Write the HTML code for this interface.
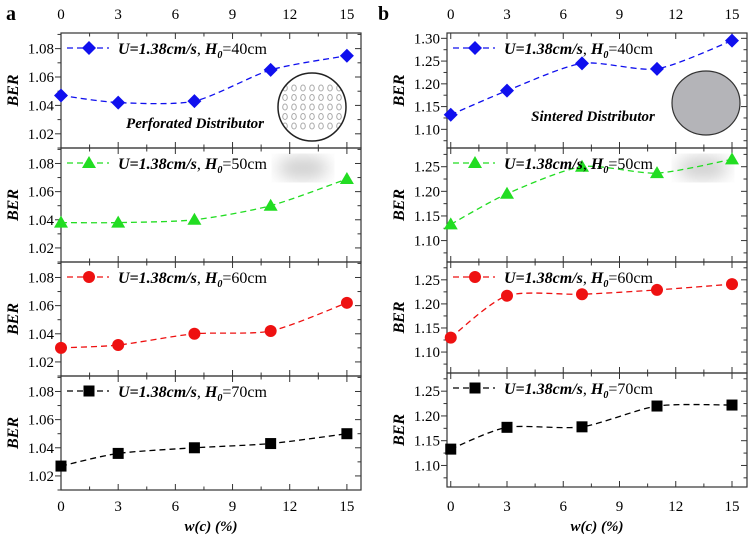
<!DOCTYPE html>
<html><head><meta charset="utf-8"><style>
body{margin:0;background:#fff}
svg{display:block}
svg text, svg tspan{font-family:"Liberation Serif","DejaVu Serif","Times New Roman",serif}
</style></head><body>
<svg id="c" width="750" height="540" viewBox="0 0 750 540" xmlns="http://www.w3.org/2000/svg">
<defs><filter id="bl"><feGaussianBlur stdDeviation="8"/></filter></defs>
</svg>
<script>
const xs=[0,3,7,11,15];
const aBlue=[1.047,1.042,1.043,1.065,1.075];
const aGreen=[1.038,1.038,1.040,1.050,1.069];
const aRed=[1.030,1.032,1.040,1.042,1.062];
const aBlack=[1.027,1.036,1.040,1.043,1.050];
const bBlue=[1.132,1.185,1.245,1.233,1.295];
const bGreen=[1.133,1.195,1.250,1.237,1.265];
const bRed=[1.130,1.217,1.220,1.229,1.241];
const bBlack=[1.133,1.177,1.178,1.220,1.222];
const xTicks=[0,3,6,9,12,15];
const aYTicks=[1.02,1.04,1.06,1.08];
const bYTicks1=[1.10,1.15,1.20,1.25,1.30];
const bYTicks=[1.10,1.15,1.20,1.25];
const heights=['40','50','60','70'];

const NS='http://www.w3.org/2000/svg';
const svg=document.getElementById('c');
function el(t,a,p){const e=document.createElementNS(NS,t);for(const k in a)e.setAttribute(k,a[k]);(p||svg).appendChild(e);return e;}

const panels=[
 {name:'a',x0:61,x1:361,xmin:0,xmax:15.74,rows:[33,148,262,376,490],
  ranges:[[1.010,1.091],[1.010,1.091],[1.010,1.091],[1.010,1.091]],
  yt:[aYTicks,aYTicks,aYTicks,aYTicks],minor:0.01,
  data:[aBlue,aGreen,aRed,aBlack]},
 {name:'b',x0:447,x1:747,xmin:-0.2,xmax:15.8,rows:[33,148,262,373,487],
  ranges:[[1.059,1.3117],[1.0565,1.288],[1.0565,1.287],[1.0565,1.2867]],
  yt:[bYTicks1,bYTicks,bYTicks,bYTicks],minor:0.025,
  data:[bBlue,bGreen,bRed,bBlack]}
];
const colors=['#1010ee','#22dd22','#ee1111','#000'];
const markers=['diamond','triangle','circle','square'];

function marker(g,type,x,y,c){
  let m;
  if(type==='diamond')m=el('polygon',{points:`${x},${y-7} ${x+7},${y} ${x},${y+7} ${x-7},${y}`,fill:c},g);
  else if(type==='triangle')m=el('polygon',{points:`${x},${y-7} ${x+7},${y+5} ${x-7},${y+5}`,fill:c},g);
  else if(type==='circle')m=el('circle',{cx:x,cy:y,r:6,fill:c},g);
  else m=el('rect',{x:x-5.5,y:y-5.5,width:11,height:11,fill:c},g);
  
  
}
function smooth(pts){
  let d=`M${pts[0][0]},${pts[0][1]}`;
  for(let i=0;i<pts.length-1;i++){
    const p0=pts[Math.max(0,i-1)],p1=pts[i],p2=pts[i+1],p3=pts[Math.min(pts.length-1,i+2)];
    const c1=[p1[0]+(p2[0]-p0[0])/8,p1[1]+(p2[1]-p0[1])/8];
    const c2=[p2[0]-(p3[0]-p1[0])/8,p2[1]-(p3[1]-p1[1])/8];
    d+=` C${c1[0]},${c1[1]} ${c2[0]},${c2[1]} ${p2[0]},${p2[1]}`;
  }
  return d;
}

const la=el('text',{x:6,y:20,'font-size':20,'font-weight':'bold'});la.textContent='a';

const lb=el('text',{x:378,y:20,'font-size':20,'font-weight':'bold'});lb.textContent='b';


panels.forEach(P=>{
  const pg=el('g',{});
  
  
  const X=v=>P.x0+(v-P.xmin)/(P.xmax-P.xmin)*(P.x1-P.x0);
  xTicks.forEach(t=>{
    const tt=el('text',{x:X(t),y:19,'font-size':15,'text-anchor':'middle'},pg);tt.textContent=t;
    
    const tb=el('text',{x:X(t),y:511,'font-size':15,'text-anchor':'middle'},pg);tb.textContent=t;
    
  });
  const xt=el('text',{x:(P.x0+P.x1)/2,y:531,'font-size':15,'font-weight':'bold','font-style':'italic','text-anchor':'middle'},pg);
  xt.textContent='w(c) (%)';
  
  for(let r=0;r<4;r++){
    const top=P.rows[r],bot=P.rows[r+1],[ymin,ymax]=P.ranges[r];
    const Y=v=>bot-(v-ymin)/(ymax-ymin)*(bot-top);
    const g=el('g',{},pg);
    
    
    if(r===0&&P.name==='a'){
      const cx=312,cy=107,R=34;
      el('clipPath',{id:'cp'},g);
      el('circle',{cx,cy,r:R},g.lastChild);
      const hg=el('g',{'clip-path':'url(#cp)'},g);
      for(let i=-3;i<=3;i++)for(let j=-2;j<=2;j++)el('ellipse',{cx:cx+i*9,cy:cy+j*9.5,rx:2.3,ry:3,fill:'none',stroke:'#aaa','stroke-width':1},hg);
      const ci=el('circle',{cx,cy,r:R,fill:'none',stroke:'#222','stroke-width':1.5},g);
      
      const t=el('text',{x:195,y:128,'font-size':15,'font-weight':'bold','font-style':'italic','text-anchor':'middle'},g);
      t.textContent='Perforated Distributor';
      
    }
    if(r===0&&P.name==='b'){
      const ci=el('ellipse',{cx:706,cy:103,rx:34,ry:32,fill:'#b4b4b8',stroke:'#333','stroke-width':1.2},g);
      
      const t=el('text',{x:593,y:121,'font-size':15,'font-weight':'bold','font-style':'italic','text-anchor':'middle'},g);
      t.textContent='Sintered Distributor';
      
    }
    if(r===1){
      const bx=P.name==='a'?303:703;
      el('ellipse',{cx:bx,cy:168,rx:26,ry:12,fill:'#d0d0d0',filter:'url(#bl)'},g);
    }
    const fr=el('rect',{x:P.x0,y:top,width:P.x1-P.x0,height:bot-top,fill:'none',stroke:'#333','stroke-width':1.2},g);
    
    for(let t=0;t<=15;t+=1.5){
      const len=(t%3===0)?6:3.5;
      el('line',{x1:X(t),x2:X(t),y1:bot,y2:bot-len,stroke:'#333'},g);
      el('line',{x1:X(t),x2:X(t),y1:top,y2:top+len,stroke:'#333'},g);
    }
    const yt=P.yt[r];
    for(let v=yt[0]-P.minor*2;v<=ymax+1e-9;v+=P.minor){
      if(v<ymin)continue;
      const major=yt.some(u=>Math.abs(u-v)<1e-6);
      const len=major?6:3.5;
      el('line',{x1:P.x0,x2:P.x0-len,y1:Y(v),y2:Y(v),stroke:'#333'},g);
      el('line',{x1:P.x1,x2:P.x1-len,y1:Y(v),y2:Y(v),stroke:'#333'},g);
    }
    yt.forEach(v=>{
      const t=el('text',{x:P.x0-7,y:Y(v)+5,'font-size':15,'text-anchor':'end'},g);t.textContent=v.toFixed(2);
      
    });
    const yl=el('text',{x:0,y:0,'font-size':16,'font-weight':'bold','font-style':'italic','text-anchor':'middle',transform:`translate(${P.name==='a'?18:404},${(top+bot)/2}) rotate(-90)`},g);
    yl.textContent='BER';
    
    const vals=P.data[r];
    const pts=xs.map((x,i)=>[X(x),Y(vals[i])]);
    const ln=el('path',{d:smooth(pts),fill:'none',stroke:colors[r],'stroke-width':1.3,'stroke-dasharray':'6,4'},g);
    
    pts.forEach(p=>marker(g,markers[r],p[0],p[1],colors[r]));
    const ly=top+15;
    const lg=el('g',{},g);
    
    const lx=P.x0;
    el('line',{x1:lx+6,x2:lx+48,y1:ly,y2:ly,stroke:colors[r],'stroke-width':1.3,'stroke-dasharray':'6,4'},lg);
    marker(lg,markers[r],lx+28,ly,colors[r]);
    const t=el('text',{x:lx+57,y:ly+6,'font-size':16},lg);
    t.innerHTML=`<tspan font-weight="bold" font-style="italic">U=1.38cm/s</tspan>, <tspan font-weight="bold" font-style="italic">H</tspan><tspan font-weight="bold" font-style="italic" font-size="10" dy="4">0</tspan><tspan dy="-4">=${heights[r]}cm</tspan>`;
  }
});
</script>
</body></html>
